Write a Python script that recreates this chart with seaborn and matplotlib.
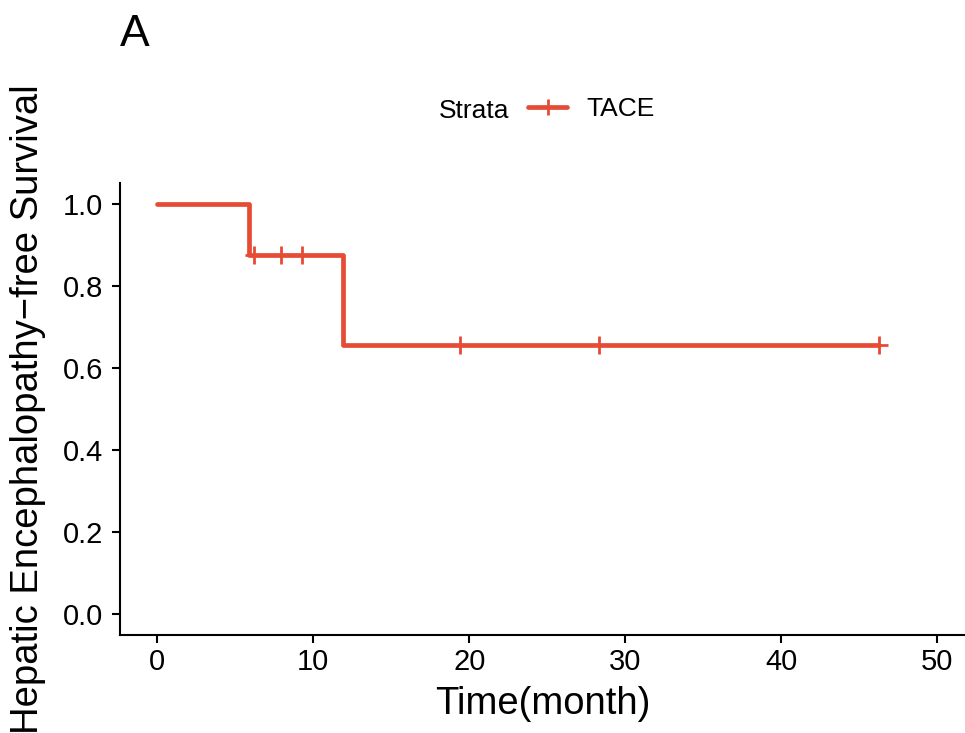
import numpy as np
import pandas as pd
import matplotlib
matplotlib.use('Agg')
import matplotlib.pyplot as plt
import seaborn as sns
from matplotlib.lines import Line2D

# ── Data ─────────────────────────────────────────────────────
step_time = [0, 5.9, 11.9, 46.3]
step_surv = [1.0, 0.875, 0.656, 0.656]
censor_time = [6.2, 7.9, 9.3, 19.4, 28.3, 46.3]
censor_surv = [0.875, 0.875, 0.875, 0.656, 0.656, 0.656]
x_ticks = [0, 10, 20, 30, 40, 50]
y_ticks = [0.0, 0.2, 0.4, 0.6, 0.8, 1.0]
strata = 'TACE'
red = '#E64B35'

curve = pd.DataFrame({'time': step_time, 'surv': step_surv})
cens = pd.DataFrame({'time': censor_time, 'surv': censor_surv})

sns.set_style('ticks')
plt.rcParams['font.family'] = ['Liberation Sans', 'DejaVu Sans']
plt.rcParams['text.color'] = 'black'
plt.rcParams['axes.labelcolor'] = 'black'

fig = plt.figure(figsize=(9.65, 7.33), dpi=100)
ax = fig.add_axes([120/965, 1-635/733, 1-120/965, (635-183)/733])

sns.lineplot(data=curve, x='time', y='surv', ax=ax, color=red, lw=3.4,
             drawstyle='steps-post', estimator=None, sort=False)
sns.scatterplot(data=cens, x='time', y='surv', ax=ax, marker='+', color=red,
                s=150, linewidth=2, zorder=3)

ax.set_xlim(-2.4, 51.8)
ax.set_ylim(-0.05, 1.05)
ax.set_xticks(x_ticks)
ax.set_yticks(y_ticks)
ax.set_yticklabels([f'{v:.1f}' for v in y_ticks])
ax.tick_params(labelsize=21, width=1.5, length=5.5, color='black', labelcolor='black')
ax.tick_params(axis='x', pad=4)
ax.tick_params(axis='y', pad=6.5)
for s in ['left', 'bottom']:
    ax.spines[s].set_linewidth(1.5)
    ax.spines[s].set_color('black')
sns.despine(ax=ax)

ax.set_xlabel('Time(month)', fontsize=27.5, labelpad=7)
ax.set_ylabel('Hepatic Encephalopathy\u2212free Survival', fontsize=27.5)
ax.yaxis.set_label_coords(-0.087, 0.5)

# legend in ggplot style: title on the left
fig.text(439/965, 1-118/733, 'Strata', fontsize=19, va='baseline', ha='left')
h = Line2D([], [], color=red, lw=3.4, marker='+', markersize=12, markeredgewidth=2)
fig.legend([h], [strata], loc='center left', bbox_to_anchor=(528/965, 1-109/733),
           frameon=False, fontsize=19, handlelength=1.48, handletextpad=0.72,
           borderpad=0, borderaxespad=0)

fig.text(120/965, 1-46/733, 'A', fontsize=32, va='baseline', ha='left')

plt.savefig('out.png', dpi=100)
